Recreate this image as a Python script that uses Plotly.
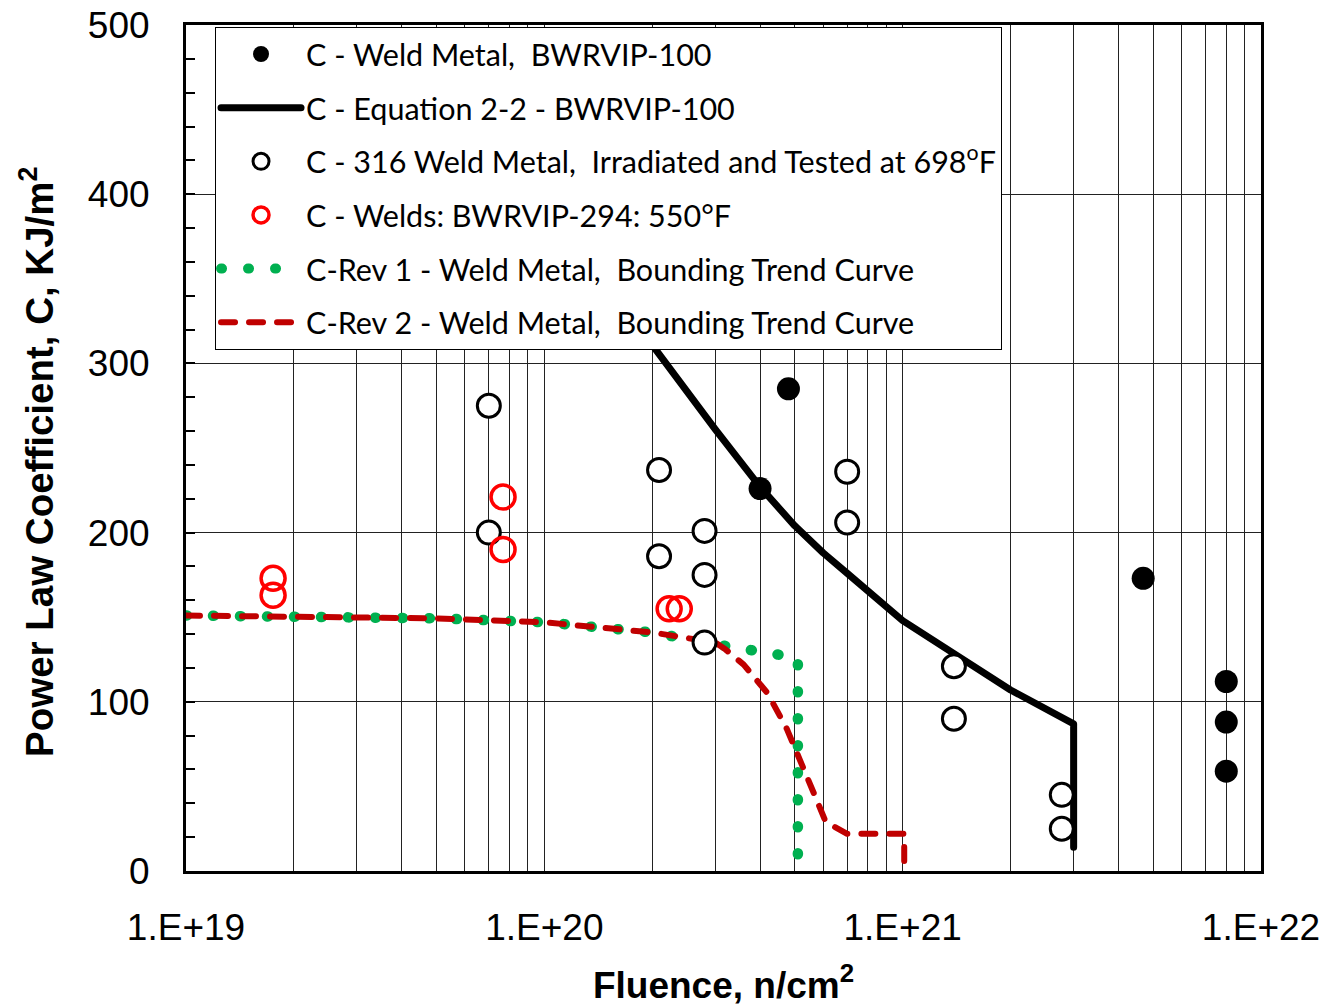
import plotly.graph_objects as go

# ---------------- data ----------------
weld_fluence = [4.8e20, 4.0e20, 4.69e21, 8.0e21, 8.0e21, 8.0e21]
weld_c = [285, 226, 173, 112, 88, 59]

eq_fluence = [1.0e20, 2.0e20, 3.0e20, 4.0e20, 5.0e20, 6.0e20, 7.0e20, 8.0e20, 9.0e20,
              1.0e21, 2.0e21, 3.0e21, 3.0e21]
eq_c = [440, 311, 261, 227, 204, 188, 176, 166, 157, 148, 107, 87, 14]

w316_fluence = [7.0e19, 7.0e19, 2.09e20, 2.09e20, 2.8e20, 2.8e20, 2.8e20, 7.0e20, 7.0e20,
                1.39e21, 1.39e21, 2.78e21, 2.78e21]
w316_c = [275, 200, 237, 186, 201, 175, 135, 236, 206, 121, 90, 45, 25]

w294_fluence = [1.75e19, 1.75e19, 7.67e19, 7.67e19, 2.23e20, 2.38e20]
w294_c = [173, 163, 221, 190, 155, 155]

rev1_fluence = [1.0e19, 2.0e19, 5.0e19, 1.0e20, 1.5e20, 2.0e20, 3.0e20, 4.0e20, 5.1e20, 5.1e20]
rev1_c = [151, 150.5, 149.3, 147, 144, 141, 134, 129, 126, 0]

rev2_fluence = [1.0e19, 2.0e19, 5.0e19, 1.0e20, 1.5e20, 2.0e20, 3.0e20, 3.2e20, 3.6e20,
                4.2e20, 4.75e20, 5.2e20, 5.65e20, 6.1e20, 7.0e20, 1.01e21, 1.01e21]
rev2_c = [151, 150.5, 149.3, 147, 144, 141, 135, 131, 122, 105, 84, 65, 46, 29, 22, 22, 0]

x_tick_vals = [1e19, 1e20, 1e21, 1e22]
x_tick_labels = ["1.E+19", "1.E+20", "1.E+21", "1.E+22"]

# ---------------- figure ----------------
NB = "\u00a0"
fig = go.Figure()

fig.add_trace(go.Scatter(
    x=rev1_fluence, y=rev1_c, mode="lines",
    name="C-Rev 1 - Weld Metal," + NB + NB + "Bounding Trend Curve",
    line=dict(color="#00B050", width=10.5, dash="1px,26px"),
    legendrank=5, legendgroup="g5"))
fig.add_trace(go.Scatter(
    x=rev2_fluence, y=rev2_c, mode="lines",
    name="C-Rev 2 - Weld Metal," + NB + NB + "Bounding Trend Curve",
    line=dict(color="#C00000", width=6, dash="14px,14px"),
    legendrank=6, legendgroup="g6"))
fig.add_trace(go.Scatter(
    x=eq_fluence, y=eq_c, mode="lines",
    name="C - Equation 2-2 - BWRVIP-100",
    line=dict(color="black", width=7),
    legendrank=2, legendgroup="g2"))
fig.add_trace(go.Scatter(
    x=weld_fluence, y=weld_c, mode="markers",
    name="C - Weld Metal," + NB + NB + "BWRVIP-100",
    marker=dict(symbol="circle", size=23, color="black"),
    legendrank=1, legendgroup="g1"))
fig.add_trace(go.Scatter(
    x=w316_fluence, y=w316_c, mode="markers",
    name="C - 316 Weld Metal," + NB + NB + "Irradiated and Tested at 698<sup>o</sup>F",
    marker=dict(symbol="circle", size=23, color="white", line=dict(color="black", width=3)),
    legendrank=3, legendgroup="g3"))
fig.add_trace(go.Scatter(
    x=w294_fluence, y=w294_c, mode="markers",
    name="C - Welds: BWRVIP-294: 550°F",
    marker=dict(symbol="circle-open", size=24, color="#FF0000", line=dict(width=3.5)),
    legendrank=4, legendgroup="g4"))

minor_vals = [float(k) * 10.0 ** e for e in range(19, 22) for k in range(2, 10)]

axis_font = dict(family="Liberation Sans, Arial", size=37, color="black")

fig.update_layout(
    width=1327, height=1006,
    margin=dict(l=186, r=66, t=25, b=135),
    paper_bgcolor="white", plot_bgcolor="white",
    showlegend=True,
    legend=dict(
        x=0.027, y=0.998, xanchor="left", yanchor="top",
        bgcolor="white", bordercolor="black", borderwidth=1,
        font=dict(family="Lato", size=30.5, color="black"),
        itemwidth=80, tracegroupgap=11, traceorder="grouped",
    ),
    xaxis=dict(
        type="log", range=[19, 22],
        tickvals=x_tick_vals, ticktext=x_tick_labels,
        showgrid=True, gridcolor="#222", gridwidth=1,
        minor=dict(tickvals=minor_vals, showgrid=True, gridcolor="#222", gridwidth=1, ticks=""),
        showline=True, linecolor="black", linewidth=3, mirror=True,
        ticks="", tickfont=axis_font, ticklabelstandoff=22,
        title=dict(text="<b>Fluence, n/cm<sup>2</sup></b>",
                   font=dict(family="Liberation Sans, Arial", size=37, color="black"),
                   standoff=28),
        zeroline=False, automargin=False,
    ),
    yaxis=dict(
        range=[0, 500], tick0=0, dtick=100,
        showgrid=True, gridcolor="#222", gridwidth=1,
        showline=True, linecolor="black", linewidth=3, mirror=True,
        ticks="inside", ticklen=9, tickwidth=2, tickcolor="black",
        minor=dict(dtick=20, ticks="inside", ticklen=9, tickwidth=2, tickcolor="black", showgrid=False),
        tickfont=axis_font, ticklabelstandoff=26,
        zeroline=False, automargin=False,
    ),
    annotations=[dict(
        text="<b>Power Law Coefficient, C, KJ/m<sup>2</sup></b>",
        xref="paper", yref="paper", x=-0.1386, y=0.4835,
        xanchor="center", yanchor="middle", textangle=-90, showarrow=False,
        font=dict(family="Liberation Sans, Arial", size=38.5, color="black"),
    )],
)

post = """
var s = document.createElement('style');
s.innerHTML = 'html, body { margin: 0 !important; padding: 0 !important; overflow: hidden; } ' +
              'path.js-line { stroke-linecap: round !important; stroke-linejoin: round !important; }';
document.head.appendChild(s);
"""
fig.write_html("out.html", post_script=post, config={"displayModeBar": False})
